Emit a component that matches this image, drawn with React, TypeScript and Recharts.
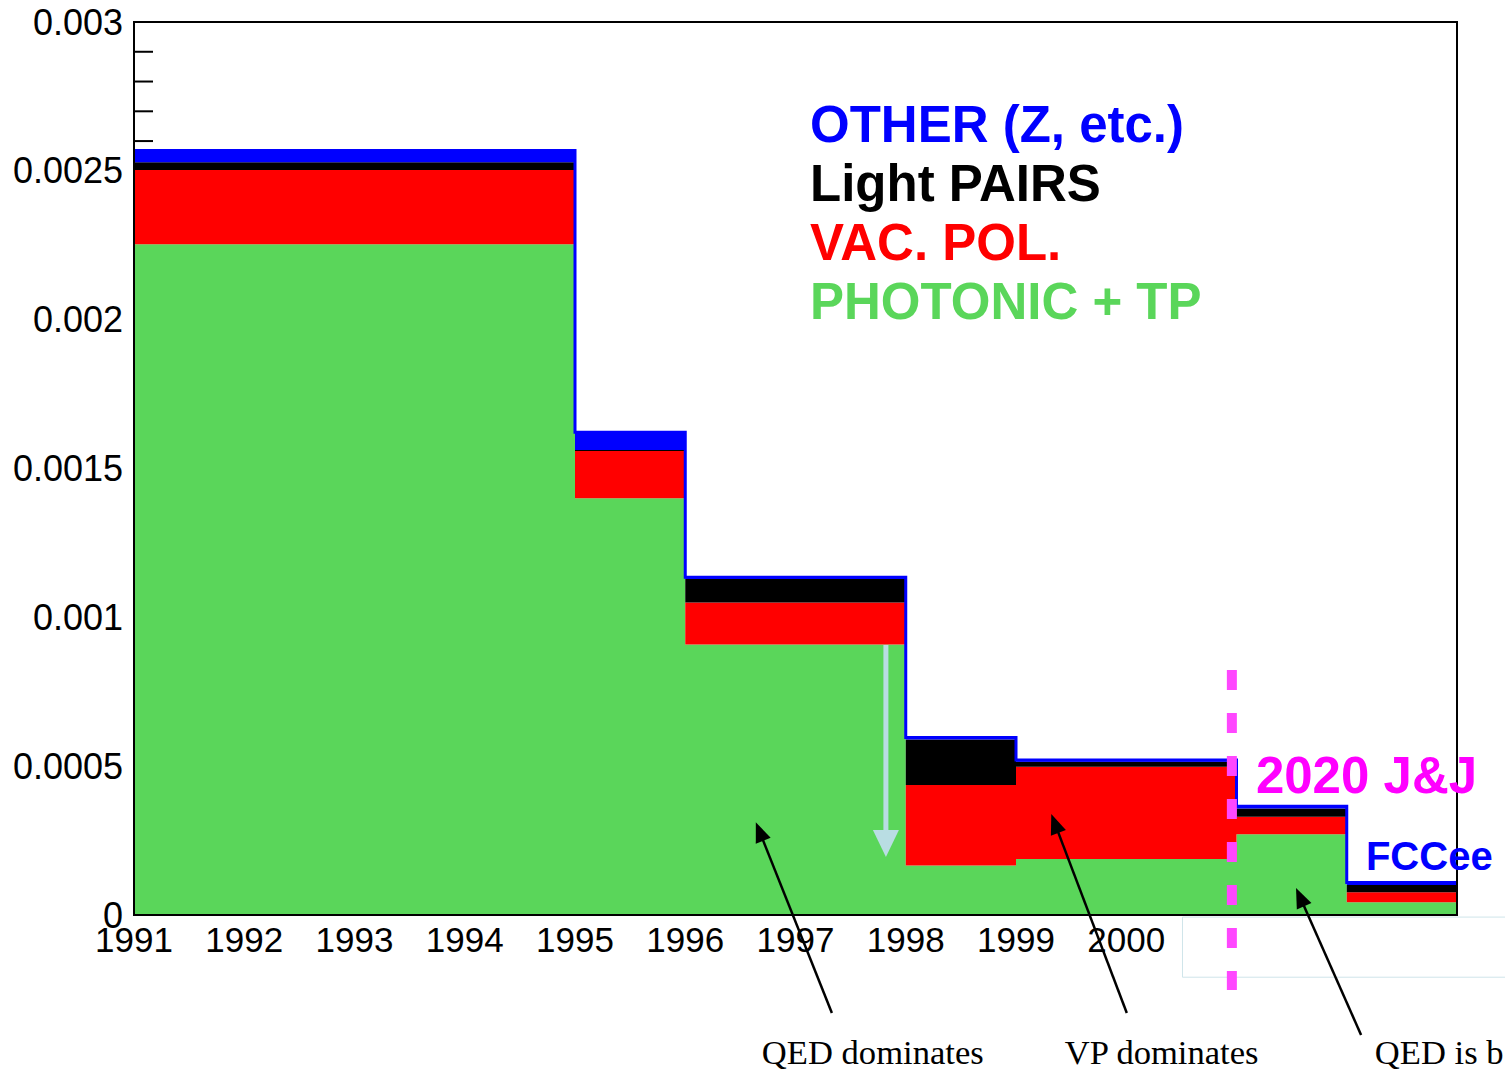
import React from 'react';
import {
  ComposedChart,
  Area,
  XAxis,
  YAxis,
  Legend,
  ReferenceArea,
  ReferenceLine,
  ReferenceDot,
} from 'recharts';

// ---- data (bin lower edges; the last entry closes the final bin) ----
const binEdges = [1991, 1995, 1996, 1998, 1999, 2001, 2002, 2003];
const photonicTP = [0.002253, 0.0014, 0.000909, 0.000166, 0.000188, 0.000271, 0.0000427, 0.0000427];
const vacPol = [0.00025, 0.000159, 0.000141, 0.000271, 0.00031, 0.000059, 0.0000336, 0.0000336];
const lightPairs = [0.000026, 0.000003, 0.000079, 0.000153, 0.000017, 0.000028, 0.0000245, 0.0000245];
const otherZ = [0.000039, 0.00006, 0.000006, 0.000006, 0.000006, 0.000007, 0.000008, 0.000008];

const seriesKeys = ['photonic', 'vacpol', 'pairs', 'other'];
const seriesNames = ['PHOTONIC + TP', 'VAC. POL.', 'Light PAIRS', 'OTHER (Z, etc.)'];
const seriesColors = ['#5ad65a', '#ff0000', '#000000', '#0000ff'];

const xTicks = [1991, 1992, 1993, 1994, 1995, 1996, 1997, 1998, 1999, 2000];
const yMajorTicks = [0, 0.0005, 0.001, 0.0015, 0.002, 0.0025, 0.003];
const yMinorTicks = [0.0026, 0.0027, 0.0028, 0.0029];

// annotations (data coordinates)
const blackArrows = [
  { from: { x: 1997.33, y: -0.000329 }, to: { x: 1996.64, y: 0.000312 } },
  { from: { x: 2000.005, y: -0.000329 }, to: { x: 1999.32, y: 0.000339 } },
  { from: { x: 2002.13, y: -0.000403 }, to: { x: 2001.54, y: 0.0000907 } },
];
const shiftArrow = { from: { x: 1997.82, y: 0.000907 }, to: { x: 1997.82, y: 0.000195 } };
const notes = [
  { text: 'QED dominates', x: 1996.695, y: -0.0005006 },
  { text: 'VP dominates', x: 1999.443, y: -0.0005006 },
  { text: 'QED is b', x: 2002.255, y: -0.0005006 },
];
const jjLine = { x: 2000.958, yTop: 0.000823, yBottom: -0.000252 };
const jjLabel = { text: '2020 J&J', x: 2001.176, y: 0.00041 };
const fccLabel = { text: 'FCCee', x: 2002.174, y: 0.000151 };

const rows = binEdges.map((x, i) => ({
  x,
  photonic: photonicTP[i],
  vacpol: vacPol[i],
  pairs: lightPairs[i],
  other: otherZ[i],
}));

const SANS = '"Liberation Sans", Arial, Helvetica, sans-serif';
const SERIF = '"Liberation Serif", "Times New Roman", serif';

const makeArrow = (color: string, width: number, headLen: number, headHalf: number) => (p: any) => {
  const { x1, y1, x2, y2 } = p;
  const dx = x2 - x1;
  const dy = y2 - y1;
  const L = Math.hypot(dx, dy) || 1;
  const ux = dx / L;
  const uy = dy / L;
  const bx = x2 - ux * headLen;
  const by = y2 - uy * headLen;
  const px = -uy;
  const py = ux;
  const pts = `${x2},${y2} ${bx + px * headHalf},${by + py * headHalf} ${bx - px * headHalf},${by - py * headHalf}`;
  return (
    <g>
      <line x1={x1} y1={y1} x2={bx + ux * 2} y2={by + uy * 2} stroke={color} strokeWidth={width} />
      <polygon points={pts} fill={color} />
    </g>
  );
};

const makeText = (text: string, style: any) => (p: any) => (
  <text x={p.cx} y={p.cy} {...style}>
    {text}
  </text>
);

const XTick = (p: any) => (
  <text x={p.x} y={p.y + 37} textAnchor="middle" fontSize={35} fontFamily={SANS} fill="#000">
    {p.payload.value}
  </text>
);

const YTick = (p: any) => {
  const v = p.payload.value;
  if (yMinorTicks.includes(v)) {
    return <line x1={p.x + 11} y1={p.y} x2={p.x + 30} y2={p.y} stroke="#000" strokeWidth={2} />;
  }
  return (
    <text x={p.x} y={p.y + 12.5} textAnchor="end" fontSize={36} fontFamily={SANS} fill="#000">
      {String(v)}
    </text>
  );
};

const LegendBlock = () => (
  <div style={{ fontFamily: SANS, fontWeight: 'bold', fontSize: 51, lineHeight: '59px' }}>
    {[3, 2, 1, 0].map((i) => (
      <div key={i} style={{ color: seriesColors[i], whiteSpace: 'nowrap' }}>
        {seriesNames[i]}
      </div>
    ))}
  </div>
);

export default function App() {
  return (
    <div style={{ position: 'relative', width: 1505, height: 1071, background: '#fff' }}>
      <style>{'body{margin:0;overflow:hidden;background:#fff}'}</style>
      <ComposedChart
        width={1505}
        height={1071}
        data={rows}
        margin={{ top: 22, right: 48, bottom: 96, left: 11 }}
      >
        <XAxis
          dataKey="x"
          type="number"
          domain={[1991, 2003]}
          ticks={xTicks}
          allowDataOverflow
          height={60}
          tickLine={false}
          tickSize={0}
          tickMargin={0}
          axisLine={{ stroke: '#000', strokeWidth: 2 }}
          tick={<XTick />}
          interval={0}
        />
        <YAxis
          type="number"
          domain={[0, 0.003]}
          ticks={[...yMajorTicks, ...yMinorTicks]}
          allowDataOverflow
          width={123}
          tickLine={false}
          tickSize={0}
          tickMargin={11}
          axisLine={{ stroke: '#000', strokeWidth: 2 }}
          tick={<YTick />}
          interval={0}
        />
        {seriesKeys.map((k, i) => (
          <Area
            key={k}
            dataKey={k}
            name={seriesNames[i]}
            stackId="s"
            type="stepAfter"
            fill={seriesColors[i]}
            fillOpacity={1}
            stroke={i === 3 ? seriesColors[i] : 'none'}
            strokeWidth={i === 3 ? 3 : 0}
            isAnimationActive={false}
            dot={false}
            activeDot={false}
          />
        ))}
        <ReferenceArea
          x1={1991}
          x2={2003}
          y1={0}
          y2={0.003}
          fill="none"
          stroke="#000"
          strokeWidth={2}
          fillOpacity={0}
          ifOverflow="visible"
        />
        <ReferenceArea
          x1={2000.51}
          x2={2004}
          y1={-0.000209}
          y2={-0.000007}
          fill="none"
          fillOpacity={0}
          stroke="#cfe5ea"
          strokeWidth={1}
          ifOverflow="visible"
        />
        <ReferenceLine
          segment={[shiftArrow.from, shiftArrow.to]}
          ifOverflow="visible"
          shape={makeArrow('#b9dde3', 5, 27, 13)}
        />
        {blackArrows.map((a, i) => (
          <ReferenceLine
            key={'a' + i}
            segment={[a.from, a.to]}
            ifOverflow="visible"
            shape={makeArrow('#000', 2.5, 20, 8)}
          />
        ))}
        <ReferenceLine
          segment={[
            { x: jjLine.x, y: jjLine.yTop },
            { x: jjLine.x, y: jjLine.yBottom },
          ]}
          ifOverflow="visible"
          stroke="#ff47ff"
          strokeWidth={10}
          strokeDasharray="20 23"
        />
        {notes.map((n, i) => (
          <ReferenceDot
            key={'n' + i}
            x={n.x}
            y={n.y}
            r={0}
            ifOverflow="visible"
            shape={makeText(n.text, { fontSize: 34.6, fontFamily: SERIF, fill: '#000', textAnchor: 'start' })}
          />
        ))}
        <ReferenceDot
          x={jjLabel.x}
          y={jjLabel.y}
          r={0}
          ifOverflow="visible"
          shape={makeText(jjLabel.text, { fontSize: 51, fontWeight: 'bold', fontFamily: SANS, fill: '#ff00ff' })}
        />
        <ReferenceDot
          x={fccLabel.x}
          y={fccLabel.y}
          r={0}
          ifOverflow="visible"
          shape={makeText(fccLabel.text, { fontSize: 40, fontWeight: 'bold', fontFamily: SANS, fill: '#0000ff' })}
        />
        <Legend
          layout="vertical"
          align="center"
          verticalAlign="middle"
          content={<LegendBlock />}
          wrapperStyle={{ left: 810, top: 95, width: 'auto', height: 'auto', right: 'auto', bottom: 'auto' }}
        />
      </ComposedChart>
    </div>
  );
}
